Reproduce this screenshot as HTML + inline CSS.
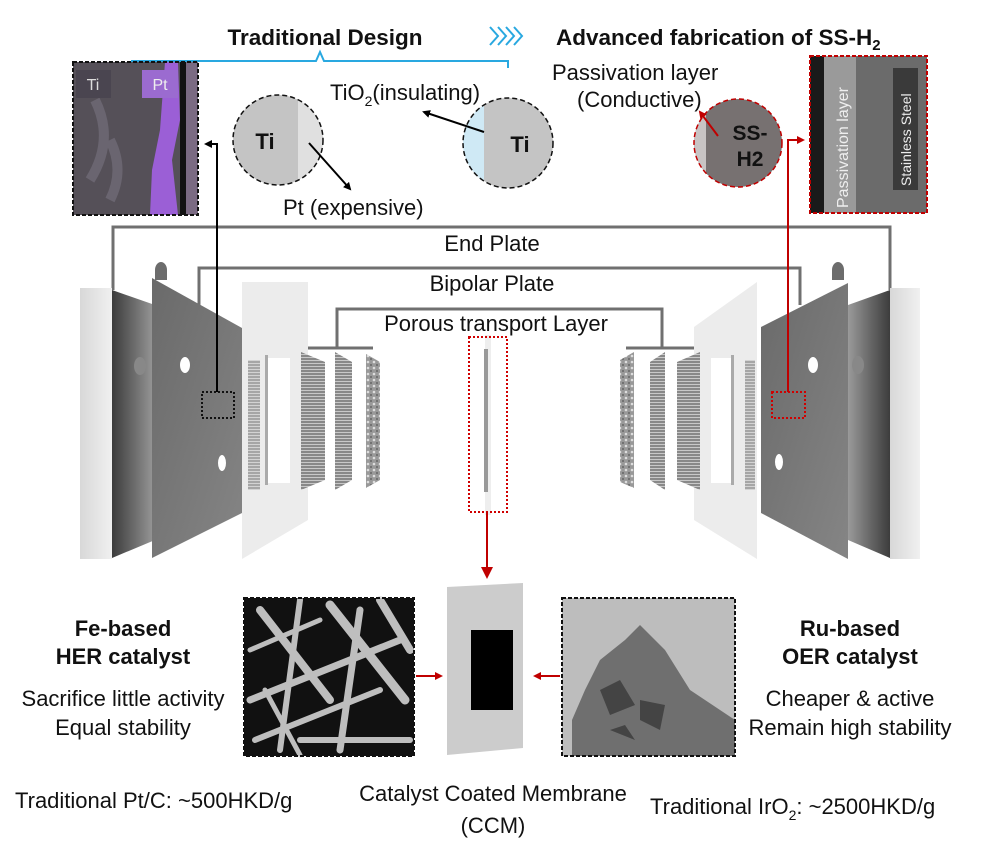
<!DOCTYPE html>
<html><head><meta charset="utf-8"><style>
html,body{margin:0;padding:0;background:#fff}
svg{display:block}
text{font-family:"Liberation Sans",Arial,sans-serif;fill:#111}
</style></head><body>
<svg width="985" height="846" viewBox="0 0 985 846" xmlns="http://www.w3.org/2000/svg">
<defs>
<linearGradient id="endside" x1="0" x2="1"><stop offset="0" stop-color="#3c3c3c"/><stop offset="0.5" stop-color="#6a6a6a"/><stop offset="1" stop-color="#9a9a9a"/></linearGradient>
<linearGradient id="endsideR" x1="1" x2="0"><stop offset="0" stop-color="#3c3c3c"/><stop offset="0.5" stop-color="#6a6a6a"/><stop offset="1" stop-color="#9a9a9a"/></linearGradient>
<linearGradient id="endface" x1="0" x2="1"><stop offset="0" stop-color="#d8d8d8"/><stop offset="1" stop-color="#f0f0f0"/></linearGradient>
<linearGradient id="bp" x1="0" x2="1" y1="0" y2="1"><stop offset="0" stop-color="#6a6a6a"/><stop offset="1" stop-color="#858585"/></linearGradient>
<pattern id="stripes" width="4" height="3" patternUnits="userSpaceOnUse"><rect width="4" height="3" fill="#888"/><rect width="4" height="1" fill="#c8c8c8"/></pattern>
<pattern id="foam" width="6" height="6" patternUnits="userSpaceOnUse"><rect width="6" height="6" fill="#999"/><circle cx="2" cy="2" r="1.3" fill="#ddd"/><circle cx="5" cy="5" r="1" fill="#666"/></pattern>
<marker id="ab" markerWidth="8" markerHeight="8" refX="6" refY="4" orient="auto" markerUnits="userSpaceOnUse"><path d="M0,0 L8,4 L0,8 z" fill="#000"/></marker>
<marker id="ar" markerWidth="8" markerHeight="8" refX="6" refY="4" orient="auto" markerUnits="userSpaceOnUse"><path d="M0,0 L8,4 L0,8 z" fill="#c00000"/></marker>
<marker id="ar2" markerWidth="12" markerHeight="12" refX="10" refY="6" orient="auto" markerUnits="userSpaceOnUse"><path d="M0,0 L12,6 L0,12 z" fill="#c00000"/></marker>
</defs>

<text x="325" y="45" font-size="22.5" font-weight="bold" text-anchor="middle">Traditional Design</text>
<g fill="none" stroke="#29a8e0" stroke-width="2">
<path d="M490,27 l8,9 l-8,9 M498,27 l8,9 l-8,9 M506,27 l8,9 l-8,9 M514,27 l8,9 l-8,9"/>
<path d="M132,68 L132,61 L316,61 L320,52 L324,61 L508,61 L508,68"/>
</g>
<text x="556" y="45" font-size="22.5" font-weight="bold">Advanced fabrication of SS-H<tspan font-size="15" dy="5">2</tspan></text>

<rect x="73" y="62" width="125" height="153" fill="#555058"/>
<path d="M95,100 q20,40 -5,80 M110,140 q15,30 0,60" stroke="#6a6570" stroke-width="10" fill="none"/>
<path d="M165,62 L178,62 L180,120 L172,160 L178,215 L150,215 L152,170 L160,130 Z" fill="#9b5fd6"/>
<rect x="180" y="62" width="6" height="153" fill="#111"/>
<rect x="186" y="62" width="12" height="153" fill="#7a6a82"/>
<rect x="76" y="70" width="35" height="28" fill="#4a4550"/><text x="93" y="90" font-size="16" style="fill:#ddd" text-anchor="middle">Ti</text>
<rect x="142" y="70" width="36" height="28" fill="#9b6bd0"/><text x="160" y="90" font-size="16" style="fill:#eee" text-anchor="middle">Pt</text>
<rect x="73" y="62" width="125" height="153" fill="none" stroke="#111" stroke-width="2" stroke-dasharray="4,2"/>

<rect x="810" y="56" width="117" height="157" fill="#6b6b6b"/>
<rect x="810" y="56" width="14" height="157" fill="#1a1a1a"/>
<rect x="824" y="56" width="32" height="157" fill="#9a9a9a"/>
<rect x="893" y="68" width="25" height="122" fill="#3a3a3a"/>
<text transform="translate(848,208) rotate(-90)" font-size="16" style="fill:#eee">Passivation layer</text>
<text transform="translate(911,186) rotate(-90)" font-size="14" style="fill:#eee">Stainless Steel</text>
<rect x="810" y="56" width="117" height="157" fill="none" stroke="#c00000" stroke-width="2" stroke-dasharray="4,2"/>

<clipPath id="c1"><circle cx="278" cy="140" r="45"/></clipPath>
<circle cx="278" cy="140" r="45" fill="#c4c4c4"/>
<rect x="298" y="90" width="30" height="100" fill="#e0e0e0" clip-path="url(#c1)"/>
<circle cx="278" cy="140" r="45" fill="none" stroke="#111" stroke-width="1.5" stroke-dasharray="5,3"/>
<text x="265" y="149" font-size="22" font-weight="bold" text-anchor="middle">Ti</text>

<clipPath id="c2"><circle cx="508" cy="143" r="45"/></clipPath>
<circle cx="508" cy="143" r="45" fill="#c4c4c4"/>
<rect x="460" y="95" width="24" height="100" fill="#cfe9f5" clip-path="url(#c2)"/>
<circle cx="508" cy="143" r="45" fill="none" stroke="#111" stroke-width="1.5" stroke-dasharray="5,3"/>
<text x="520" y="152" font-size="22" font-weight="bold" text-anchor="middle">Ti</text>

<clipPath id="c3"><circle cx="738" cy="143" r="44"/></clipPath>
<circle cx="738" cy="143" r="44" fill="#777171"/>
<rect x="690" y="95" width="16" height="100" fill="#c8c4c4" clip-path="url(#c3)"/>
<circle cx="738" cy="143" r="44" fill="none" stroke="#c00000" stroke-width="1.5" stroke-dasharray="5,3"/>
<text x="750" y="140" font-size="21" font-weight="bold" text-anchor="middle">SS-</text>
<text x="750" y="166" font-size="21" font-weight="bold" text-anchor="middle">H2</text>

<text x="330" y="100" font-size="22">TiO<tspan font-size="14" dy="6">2</tspan><tspan dy="-6">(insulating)</tspan></text>
<line x1="484" y1="132" x2="424" y2="112" stroke="#000" stroke-width="2" marker-end="url(#ab)"/>
<line x1="309" y1="143" x2="350" y2="189" stroke="#000" stroke-width="2" marker-end="url(#ab)"/>
<text x="283" y="215" font-size="22">Pt (expensive)</text>
<text x="552" y="80" font-size="22">Passivation layer</text>
<text x="577" y="107" font-size="22">(Conductive)</text>
<line x1="718" y1="136" x2="700" y2="112" stroke="#c00000" stroke-width="2" marker-end="url(#ar)"/>

<g fill="none" stroke="#707070" stroke-width="3">
<path d="M113,290 L113,227 L890,227 L890,290"/>
<path d="M199,305 L199,268 L800,268 L800,305"/>
<path d="M337,348 L337,309 L662,309 L662,348"/>
<path d="M302,348 L373,348 M626,348 L695,348"/>
</g>
<text x="492" y="251" font-size="22" text-anchor="middle">End Plate</text>
<text x="492" y="291" font-size="22" text-anchor="middle">Bipolar Plate</text>
<text x="496" y="331" font-size="22" text-anchor="middle">Porous transport Layer</text>

<rect x="80" y="288" width="32" height="271" fill="url(#endface)"/>
<polygon points="112,290 155,305 155,540 112,558" fill="url(#endside)"/>
<path d="M155,270 a6,8 0 0 1 12,0 l0,10 l-12,0 z" fill="#6c6c6c"/>
<polygon points="152,278 242,328 242,513 152,558" fill="url(#bp)"/>
<ellipse cx="185" cy="365" rx="5" ry="8" fill="#fff"/>
<ellipse cx="222" cy="463" rx="4" ry="8" fill="#fff"/>
<ellipse cx="140" cy="366" rx="6" ry="9" fill="#888"/>
<polygon points="242,282 308,282 308,520 242,559" fill="#ececec"/>
<rect x="268" y="358" width="22" height="125" fill="#fff"/>
<rect x="248" y="360" width="12" height="130" fill="url(#stripes)" opacity="0.7"/>
<rect x="265" y="355" width="3" height="130" fill="#aaa"/>
<polygon points="301,352 325,362 325,480 301,490" fill="url(#stripes)"/>
<polygon points="335,352 352,362 352,480 335,490" fill="url(#stripes)"/>
<polygon points="366,354 380,362 380,480 366,488" fill="url(#foam)"/>

<rect x="890" y="288" width="30" height="271" fill="url(#endface)"/>
<polygon points="890,290 848,305 848,540 890,558" fill="url(#endsideR)"/>
<ellipse cx="858" cy="365" rx="6" ry="9" fill="#888"/>
<path d="M832,270 a6,8 0 0 1 12,0 l0,10 l-12,0 z" fill="#6c6c6c"/>
<polygon points="848,283 761,327 761,513 848,559" fill="url(#bp)"/>
<ellipse cx="813" cy="365" rx="5" ry="8" fill="#fff"/>
<ellipse cx="779" cy="462" rx="4" ry="8" fill="#fff"/>
<polygon points="694,327 757,282 757,559 694,520" fill="#ececec"/>
<rect x="711" y="358" width="21" height="125" fill="#fff"/>
<rect x="745" y="360" width="10" height="130" fill="url(#stripes)" opacity="0.7"/>
<rect x="731" y="355" width="3" height="130" fill="#aaa"/>
<polygon points="677,362 700,352 700,490 677,480" fill="url(#stripes)"/>
<polygon points="650,362 665,352 665,490 650,480" fill="url(#stripes)"/>
<polygon points="620,360 634,352 634,488 620,482" fill="url(#foam)"/>

<rect x="485" y="335" width="6" height="180" fill="#eee"/>
<rect x="484" y="349" width="4" height="143" fill="#999"/>
<rect x="469" y="337" width="38" height="175" fill="none" stroke="#d00000" stroke-width="2" stroke-dasharray="2,2"/>
<line x1="487" y1="512" x2="487" y2="577" stroke="#c00000" stroke-width="2" marker-end="url(#ar2)"/>

<rect x="202" y="392" width="32" height="26" fill="none" stroke="#111" stroke-width="2" stroke-dasharray="2,2"/>
<path d="M217,392 L217,144 L206,144" fill="none" stroke="#000" stroke-width="2" marker-end="url(#ab)"/>
<rect x="772" y="392" width="33" height="26" fill="none" stroke="#d00000" stroke-width="2" stroke-dasharray="2,2"/>
<path d="M788,392 L788,140 L803,140" fill="none" stroke="#c00000" stroke-width="2" marker-end="url(#ar)"/>

<rect x="244" y="598" width="170" height="158" fill="#111"/>
<g stroke="#ddd" stroke-linecap="round" opacity="0.85">
<path d="M260,610 L330,700" stroke-width="8"/><path d="M300,600 L280,750" stroke-width="6"/>
<path d="M250,700 L400,640" stroke-width="7"/><path d="M330,605 L405,700" stroke-width="9"/>
<path d="M255,740 L380,690" stroke-width="6"/><path d="M360,610 L340,750" stroke-width="7"/>
<path d="M250,650 L320,620" stroke-width="5"/><path d="M300,740 L410,740" stroke-width="6"/>
<path d="M380,600 L410,650" stroke-width="8"/><path d="M265,690 L300,755" stroke-width="5"/>
</g>
<rect x="244" y="598" width="170" height="158" fill="none" stroke="#111" stroke-width="2" stroke-dasharray="4,2"/>

<polygon points="447,587 523,583 523,748 447,755" fill="#ccc"/>
<rect x="471" y="630" width="42" height="80" fill="#000"/>

<rect x="562" y="598" width="173" height="158" fill="#bdbdbd"/>
<path d="M625,640 L640,625 L665,650 L690,690 L735,720 L735,756 L572,756 L572,720 L585,690 L600,660 Z" fill="#6f6f6f"/>
<path d="M600,690 l20,-10 l15,25 l-25,10z M640,700 l25,5 l-5,25 l-20,-10z M610,730 l15,-5 l10,15z" fill="#444"/>
<rect x="562" y="598" width="173" height="158" fill="none" stroke="#111" stroke-width="2" stroke-dasharray="4,2"/>

<line x1="416" y1="676" x2="441" y2="676" stroke="#c00000" stroke-width="2" marker-end="url(#ar)"/>
<line x1="560" y1="676" x2="535" y2="676" stroke="#c00000" stroke-width="2" marker-end="url(#ar)"/>

<text x="123" y="636" font-size="22" font-weight="bold" text-anchor="middle">Fe-based</text>
<text x="123" y="664" font-size="22" font-weight="bold" text-anchor="middle">HER catalyst</text>
<text x="123" y="706" font-size="22" text-anchor="middle">Sacrifice little activity</text>
<text x="123" y="735" font-size="22" text-anchor="middle">Equal stability</text>
<text x="15" y="808" font-size="22">Traditional Pt/C: ~500HKD/g</text>

<text x="493" y="801" font-size="22" text-anchor="middle">Catalyst Coated Membrane</text>
<text x="493" y="833" font-size="22" text-anchor="middle">(CCM)</text>

<text x="850" y="636" font-size="22" font-weight="bold" text-anchor="middle">Ru-based</text>
<text x="850" y="664" font-size="22" font-weight="bold" text-anchor="middle">OER catalyst</text>
<text x="850" y="706" font-size="22" text-anchor="middle">Cheaper &amp; active</text>
<text x="850" y="735" font-size="22" text-anchor="middle">Remain high stability</text>
<text x="650" y="814" font-size="22">Traditional IrO<tspan font-size="14" dy="6">2</tspan><tspan dy="-6">: ~2500HKD/g</tspan></text>
</svg>
</body></html>
